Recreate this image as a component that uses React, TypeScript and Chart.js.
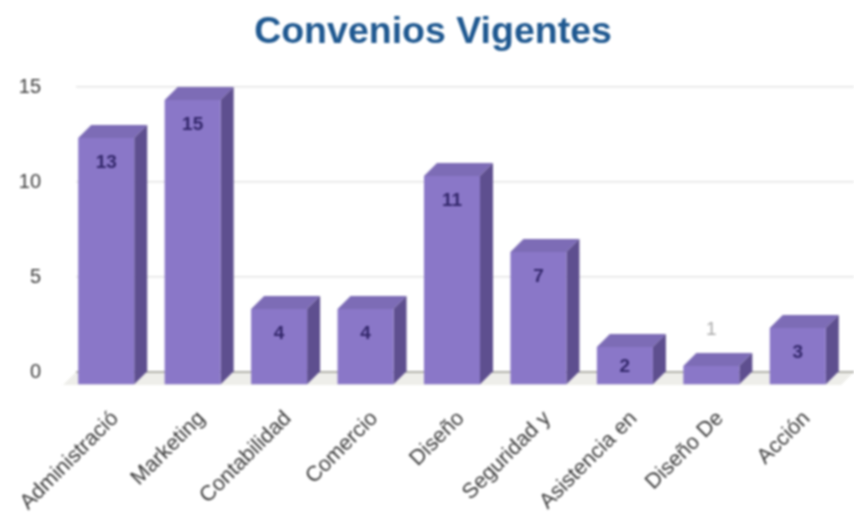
import React, { useEffect, useRef } from "react";
import { Chart, registerables } from "chart.js";

Chart.register(...registerables);

const titleText = "Convenios Vigentes";
const categories = ["Administració", "Marketing", "Contabilidad", "Comercio", "Diseño", "Seguridad y", "Asistencia en", "Diseño De", "Acción"];
const convenios = [13, 15, 4, 4, 11, 7, 2, 1, 3];
const yTicks = [0, 5, 10, 15];

const DEPTH = 13;
const FONT = "'Liberation Sans', Arial, sans-serif";

const bars3d = {
  id: "bars3d",
  beforeDatasetsDraw(chart: any) {
    const { ctx, chartArea: a } = chart;
    ctx.save();
    ctx.fillStyle = "#eeeeea";
    ctx.beginPath();
    ctx.moveTo(a.left, a.bottom);
    ctx.lineTo(a.right, a.bottom);
    ctx.lineTo(a.right - DEPTH, a.bottom + DEPTH);
    ctx.lineTo(a.left - DEPTH, a.bottom + DEPTH);
    ctx.closePath();
    ctx.fill();
    ctx.strokeStyle = "#a0a098";
    ctx.lineWidth = 1.5;
    ctx.beginPath();
    ctx.moveTo(a.left, a.bottom);
    ctx.lineTo(a.right, a.bottom);
    ctx.stroke();
    for (const el of chart.getDatasetMeta(0).data) {
      const hw = el.width / 2;
      ctx.fillStyle = "#7d6cb6";
      ctx.beginPath();
      ctx.moveTo(el.x - hw, el.y);
      ctx.lineTo(el.x + hw, el.y);
      ctx.lineTo(el.x + hw - DEPTH, el.y + DEPTH);
      ctx.lineTo(el.x - hw - DEPTH, el.y + DEPTH);
      ctx.closePath();
      ctx.fill();
      ctx.fillStyle = "#5e4f8f";
      ctx.beginPath();
      ctx.moveTo(el.x + hw, el.y);
      ctx.lineTo(el.x + hw, el.base);
      ctx.lineTo(el.x + hw - DEPTH, el.base + DEPTH);
      ctx.lineTo(el.x + hw - DEPTH, el.y + DEPTH);
      ctx.closePath();
      ctx.fill();
    }
    ctx.restore();
    ctx.save();
    ctx.translate(-DEPTH, DEPTH);
  },
  afterDatasetsDraw(chart: any) {
    const { ctx } = chart;
    ctx.restore();
    ctx.save();
    ctx.font = `bold 19px ${FONT}`;
    ctx.textAlign = "center";
    ctx.textBaseline = "middle";
    chart.getDatasetMeta(0).data.forEach((el: any, i: number) => {
      const v = convenios[i];
      const front = el.y + DEPTH;
      const x = el.x - DEPTH;
      if (v <= 1) {
        ctx.font = `19px ${FONT}`;
        ctx.fillStyle = "#a9a9a9";
        ctx.fillText(String(v), x, el.y - 23);
        ctx.font = `bold 19px ${FONT}`;
      } else {
        ctx.fillStyle = "#33276b";
        ctx.fillText(String(v), x, front + (v <= 2 ? 20 : 25));
      }
    });
    ctx.restore();
  },
};

const titleShift = {
  id: "titleShift",
  beforeDraw(chart: any) {
    const t = chart.titleBlock;
    if (t && !t.__shifted) {
      t.left += 6;
      t.right += 6;
      t.__shifted = true;
    }
  },
};

export default function App() {
  const ref = useRef<HTMLCanvasElement>(null);
  useEffect(() => {
    const chart = new Chart(ref.current!, {
      type: "bar",
      data: {
        labels: categories,
        datasets: [
          {
            data: convenios,
            backgroundColor: "#8a77c8",
            borderWidth: 0,
            barPercentage: 1,
            categoryPercentage: 0.648,
            clip: false,
          } as any,
        ],
      },
      options: {
        animation: false,
        responsive: false,
        devicePixelRatio: 1,
        layout: { padding: 0 },
        plugins: {
          legend: { display: false },
          tooltip: { enabled: false },
          title: {
            display: true,
            text: titleText,
            color: "#1f5890",
            font: { family: FONT, size: 37.5, weight: "bold", lineHeight: 1.2 },
            padding: { top: 10, bottom: 32 },
          },
        },
        scales: {
          x: {
            grid: { display: false },
            border: { display: false },
            ticks: {
              autoSkip: false,
              minRotation: 45,
              maxRotation: 45,
              padding: 26,
              labelOffset: -4,
              color: "#383838",
              font: { family: FONT, size: 21.5 },
            },
            afterFit(scale: any) {
              scale.height = 141;
              scale.paddingLeft = 0;
              scale.paddingRight = 0;
            },
          },
          y: {
            min: 0,
            max: 15,
            afterBuildTicks(scale: any) {
              scale.ticks = yTicks.map((value) => ({ value }));
            },
            grid: { color: "#e4e4e4", lineWidth: 1.5, drawTicks: false },
            border: { display: false },
            ticks: {
              padding: 35,
              color: "#3c3c3c",
              font: { family: FONT, size: 20 },
            },
            afterFit(scale: any) {
              scale.width = 76;
            },
          },
        },
      },
      plugins: [bars3d, titleShift],
    } as any);
    return () => chart.destroy();
  }, []);
  return (
    <div style={{ position: "fixed", left: 0, top: 0, width: 854, height: 513, background: "#fff" }}>
      <canvas ref={ref} width={854} height={513} style={{ display: "block", filter: "blur(0.9px)" }} />
    </div>
  );
}
